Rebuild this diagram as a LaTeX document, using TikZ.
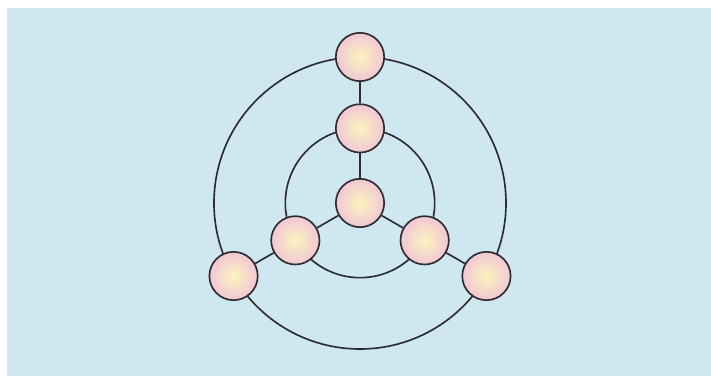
\documentclass[tikz,border=0pt]{standalone}
\usetikzlibrary{positioning}
\definecolor{paper}{RGB}{207,231,238}
\definecolor{ringline}{RGB}{45,42,48}
\definecolor{ballpink}{RGB}{242,198,212}
\definecolor{ballyellow}{RGB}{250,244,190}
\tikzset{ball/.style={circle, draw=ringline, line width=1.4pt, minimum size=1.45cm,
  inner color=ballyellow, outer color=ballpink}}

\begin{document}
\begin{tikzpicture}[line width=1.4pt]
\useasboundingbox (-10.8,-5.16) rectangle (10.53,6.09);
\fill[white] (-10.9,-5.3) rectangle (10.7,6.2);
\fill[paper] (-10.59,-5.3) rectangle (10.7,5.85);
% the two rings
\draw[ringline] (0,0) circle[radius=4.38cm];
\draw[ringline] (0,0) circle[radius=2.24cm];
\node[ball] (hub) at (0,0) {};
\node[ball] (intop) at (90:2.24) {};
\node[ball] (inleft) at (210:2.24) {};
\node[ball] (inright) at (330:2.24) {};
\node[ball] (outtop) at (90:4.38) {};
\node[ball] (outleft) at (210:4.38) {};
\node[ball] (outright) at (330:4.38) {};
\draw[ringline] (hub) -- (intop);
\draw[ringline] (hub) -- (inleft);
\draw[ringline] (hub) -- (inright);
\draw[ringline] (intop) -- (outtop);
\draw[ringline] (inleft) -- (outleft);
\draw[ringline] (inright) -- (outright);
\end{tikzpicture}
\end{document}
